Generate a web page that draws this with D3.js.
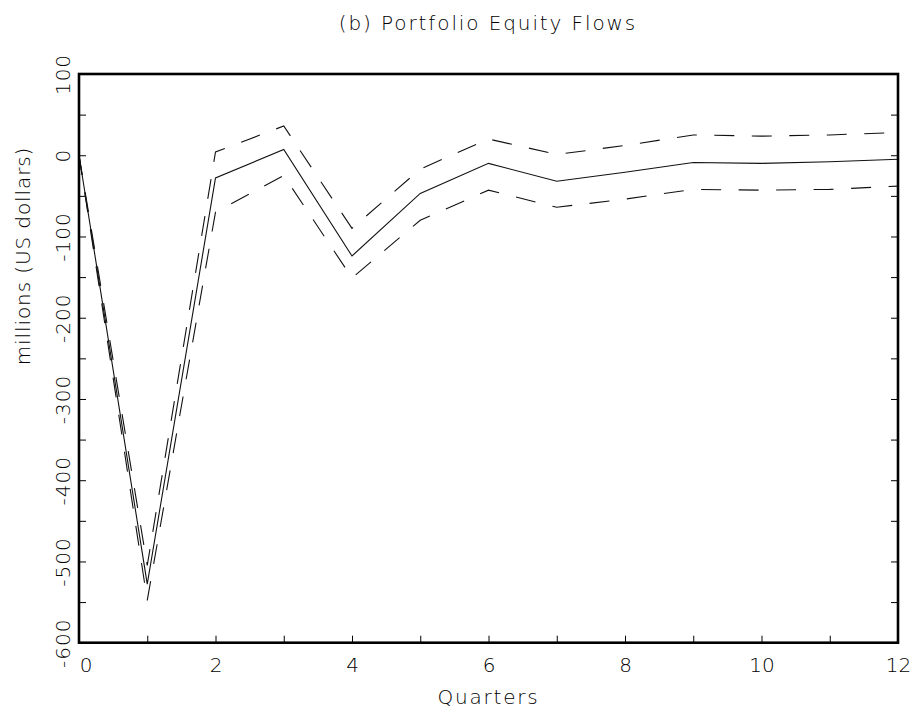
<!DOCTYPE html>
<html>
<head>
<meta charset="utf-8">
<script src="https://cdn.jsdelivr.net/npm/d3@7"></script>
<style>
  body { margin: 0; background: #fff; }
  text { font-family: "DejaVu Sans", sans-serif; font-weight: 200; font-size: 20px; fill: #000; }
  .tick line { stroke: #000; stroke-width: 1; }
</style>
</head>
<body>
<div id="chart"></div>
<script>
// data
var quarters = [0, 1, 2, 3, 4, 5, 6, 7, 8, 9, 10, 11, 12];
var response = [0, -528, -28, 7, -124, -47, -10, -32, -21, -9, -10, -8, -5];
var upperBand = [0, -505, 4, 36, -90, -17, 20, 1, 12, 25, 23.5, 25, 28];
var lowerBand = [0, -548, -70, -25, -151, -80, -43, -64, -54, -42, -43, -42, -38];
var xTicks = [0, 1, 2, 3, 4, 5, 6, 7, 8, 9, 10, 11, 12];
var yTicks = [-600, -550, -500, -450, -400, -350, -300, -250, -200, -150, -100, -50, 0, 50, 100];

var svgWidth = 915, svgHeight = 723;
var margin = {top: 74, left: 79, right: 17, bottom: 80};
var width = svgWidth - margin.left - margin.right;
var height = svgHeight - margin.top - margin.bottom - 0.3;

var svg = d3.select("#chart")
    .append("svg")
    .attr("width", svgWidth)
    .attr("height", svgHeight)
    .style("display", "block");

svg.append("rect")
    .attr("width", svgWidth)
    .attr("height", svgHeight)
    .attr("fill", "#fff");

var g = svg.append("g")
    .attr("transform", "translate(" + margin.left + "," + margin.top + ")");

// scales
var x = d3.scaleLinear().domain([0, 12]).range([0, width]);
var y = d3.scaleLinear().domain([-600, 100]).range([height, 0]);

// x axis, ticks pointing in
var xAxis = d3.axisBottom(x)
    .tickValues(xTicks)
    .tickSize(-7)
    .tickFormat(function (d) { return d % 2 === 0 ? d : ""; });

var gx = g.append("g")
    .attr("class", "x axis")
    .attr("transform", "translate(0," + height + ")")
    .call(xAxis);
gx.select(".domain").remove();
gx.selectAll("text")
    .attr("y", 29)
    .attr("dy", null)
    .attr("x", function (d) { return d === 0 ? 6.5 : 0; });

// left y axis, rotated labels
var yAxis = d3.axisLeft(y)
    .tickValues(yTicks)
    .tickSize(-7)
    .tickFormat(function (d) { return d % 100 === 0 ? d : ""; });

var gy = g.append("g")
    .attr("class", "y axis")
    .call(yAxis);
gy.select(".domain").remove();
gy.selectAll("text")
    .attr("x", null)
    .attr("dy", null)
    .attr("text-anchor", "middle")
    .style("letter-spacing", "1px")
    .attr("transform", "translate(-9,0) rotate(-90)");

// right side ticks
var gr = g.append("g")
    .attr("transform", "translate(" + width + ",0)")
    .call(d3.axisRight(y).tickValues(yTicks).tickSize(-7).tickFormat(""));
gr.select(".domain").remove();

// lines
var line = d3.line()
    .x(function (d, i) { return x(quarters[i]); })
    .y(function (d) { return y(d); });

g.append("path")
    .datum(upperBand)
    .attr("fill", "none")
    .attr("stroke", "#111")
    .attr("stroke-width", 1.1)
    .attr("stroke-dasharray", "20,17.5")
    .attr("d", line);

g.append("path")
    .datum(lowerBand)
    .attr("fill", "none")
    .attr("stroke", "#111")
    .attr("stroke-width", 1.1)
    .attr("stroke-dasharray", "20,17.5")
    .attr("d", line);

g.append("path")
    .datum(response)
    .attr("fill", "none")
    .attr("stroke", "#111")
    .attr("stroke-width", 1.1)
    .attr("d", line);

// frame
g.append("rect")
    .attr("width", width)
    .attr("height", height)
    .attr("fill", "none")
    .attr("stroke", "#000")
    .attr("stroke-width", 2.6);

// titles
svg.append("text")
    .attr("x", 488)
    .attr("y", 30)
    .attr("text-anchor", "middle")
    .style("letter-spacing", "1.9px")
    .text("(b) Portfolio Equity Flows");

svg.append("text")
    .attr("x", margin.left + width / 2)
    .attr("y", 704)
    .attr("text-anchor", "middle")
    .style("letter-spacing", "1.8px")
    .text("Quarters");

svg.append("text")
    .attr("transform", "translate(30,256) rotate(-90)")
    .attr("text-anchor", "middle")
    .style("letter-spacing", "0.9px")
    .text("millions (US dollars)");
</script>
</body>
</html>
